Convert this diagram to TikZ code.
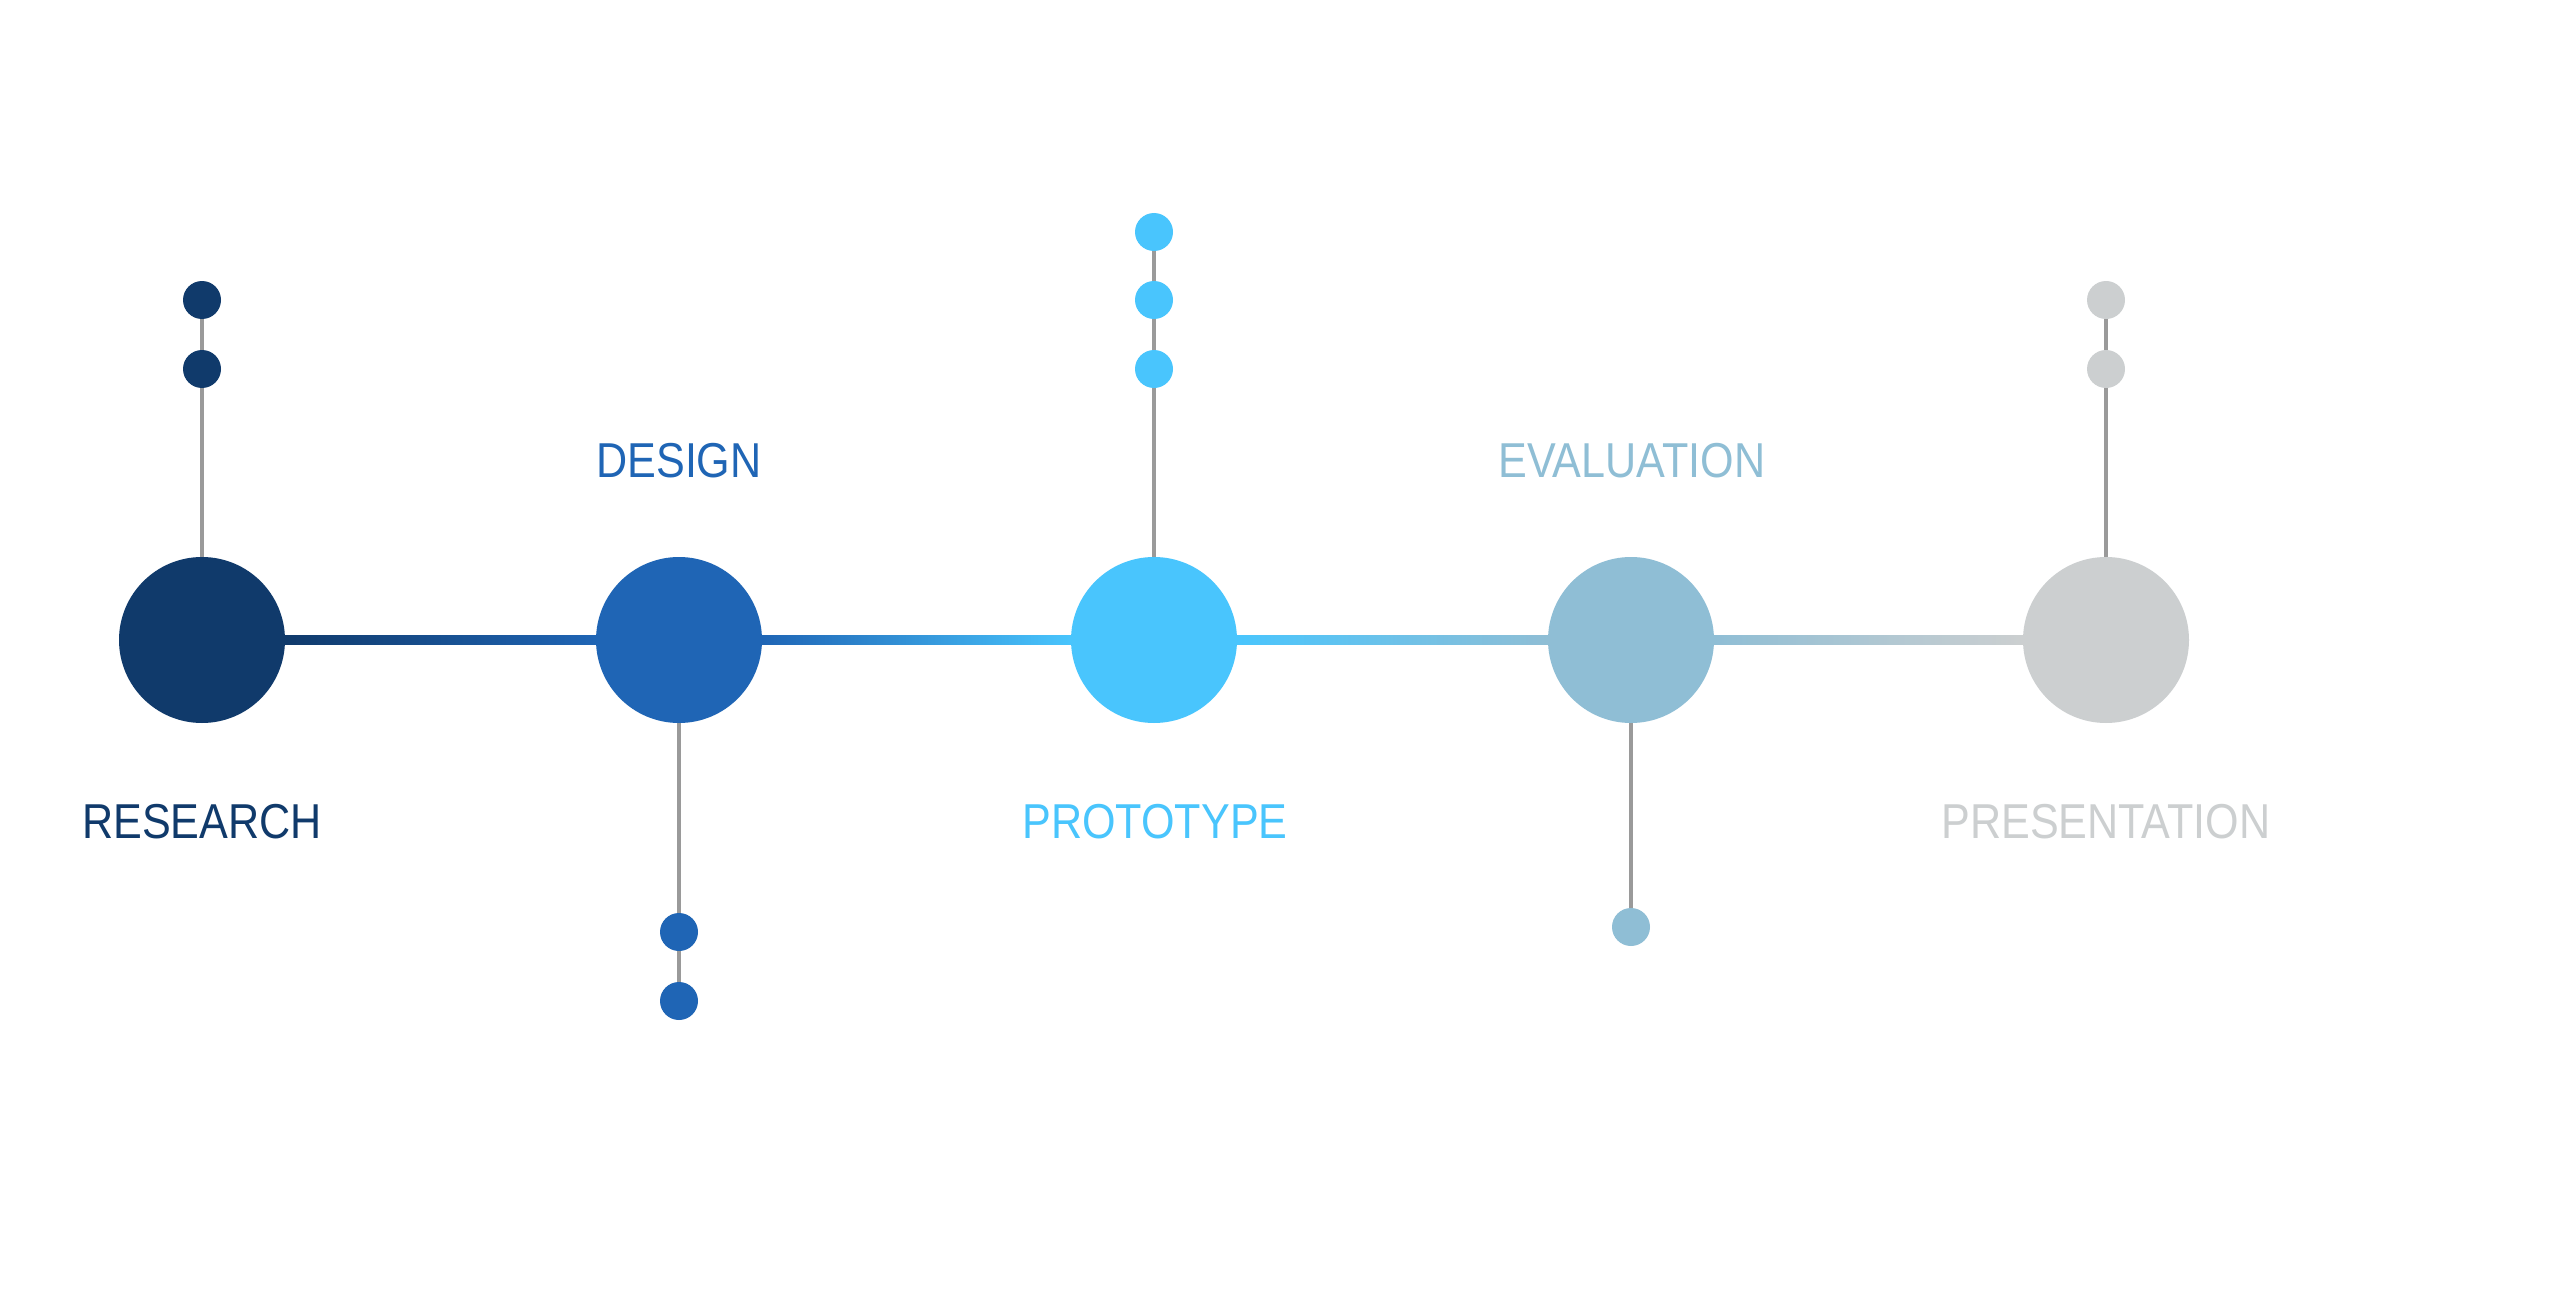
\documentclass[tikz,border=0pt]{standalone}
\usepackage{fontspec}
\newfontfamily\labfont[FakeStretch=0.88]{Liberation Sans}
\definecolor{cA}{HTML}{103A6B}
\definecolor{cB}{HTML}{1F65B5}
\definecolor{cC}{HTML}{49C5FD}
\definecolor{cD}{HTML}{8FBED5}
\definecolor{cE}{HTML}{CCCFD0}
\definecolor{stemgray}{HTML}{9A9A9A}
\pgfdeclarelayer{paper}
\pgfdeclarelayer{lines}
\pgfsetlayers{paper,lines,main}
\begin{document}
\begin{tikzpicture}[x=1pt,y=-1pt,
  big/.style={circle,inner sep=0pt,minimum size=166pt,fill=#1},
  dot/.style={circle,inner sep=0pt,minimum size=38pt,fill=#1},
  stem/.style={draw=stemgray,line width=3.5pt},
  lab/.style={font=\labfont\fontsize{49}{58}\selectfont,text=#1,anchor=base,inner sep=0pt}]
\begin{pgfonlayer}{paper}
\fill[white] (0,0) rectangle (2560,1300);
\end{pgfonlayer}
\useasboundingbox (0,0) rectangle (2560,1300);
% main circles
\node[big=cA] (n1) at (202,640) {};
\node[big=cB] (n2) at (679,640) {};
\node[big=cC] (n3) at (1154,640) {};
\node[big=cD] (n4) at (1631,640) {};
\node[big=cE] (n5) at (2106,640) {};
% small dots
\node[dot=cA] (n1a) at (202,300) {};
\node[dot=cA] (n1b) at (202,369) {};
\node[dot=cB] (n2a) at (679,932) {};
\node[dot=cB] (n2b) at (679,1001) {};
\node[dot=cC] (n3a) at (1154,232) {};
\node[dot=cC] (n3b) at (1154,300) {};
\node[dot=cC] (n3c) at (1154,369) {};
\node[dot=cD] (n4a) at (1631,927) {};
\node[dot=cE] (n5a) at (2106,300) {};
\node[dot=cE] (n5b) at (2106,369) {};
\begin{pgfonlayer}{lines}
\draw[stem] (n1.center) -- (n1a.center);
\draw[stem] (n2.center) -- (n2b.center);
\draw[stem] (n3.center) -- (n3a.center);
\draw[stem] (n4.center) -- (n4a.center);
\draw[stem] (n5.center) -- (n5a.center);
\shade[left color=cA,right color=cB] ([yshift=4.5pt]n1.east) rectangle ([yshift=-4.5pt]n2.west);
\shade[left color=cB,right color=cC] ([yshift=4.5pt]n2.east) rectangle ([yshift=-4.5pt]n3.west);
\shade[left color=cC,right color=cD] ([yshift=4.5pt]n3.east) rectangle ([yshift=-4.5pt]n4.west);
\shade[left color=cD,right color=cE] ([yshift=4.5pt]n4.east) rectangle ([yshift=-4.5pt]n5.west);
\end{pgfonlayer}
% labels
\node[lab=cA] (t1) at (202,838) {RESEARCH};
\node[lab=cB] (t2) at (679,477) {DESIGN};
\node[lab=cC] (t3) at (1155,838) {PROTOTYPE};
\node[lab=cD] (t4) at (1632,477) {EVALUATION};
\node[lab=cE] (t5) at (2106,838) {PRESENTATION};
\end{tikzpicture}
\end{document}
